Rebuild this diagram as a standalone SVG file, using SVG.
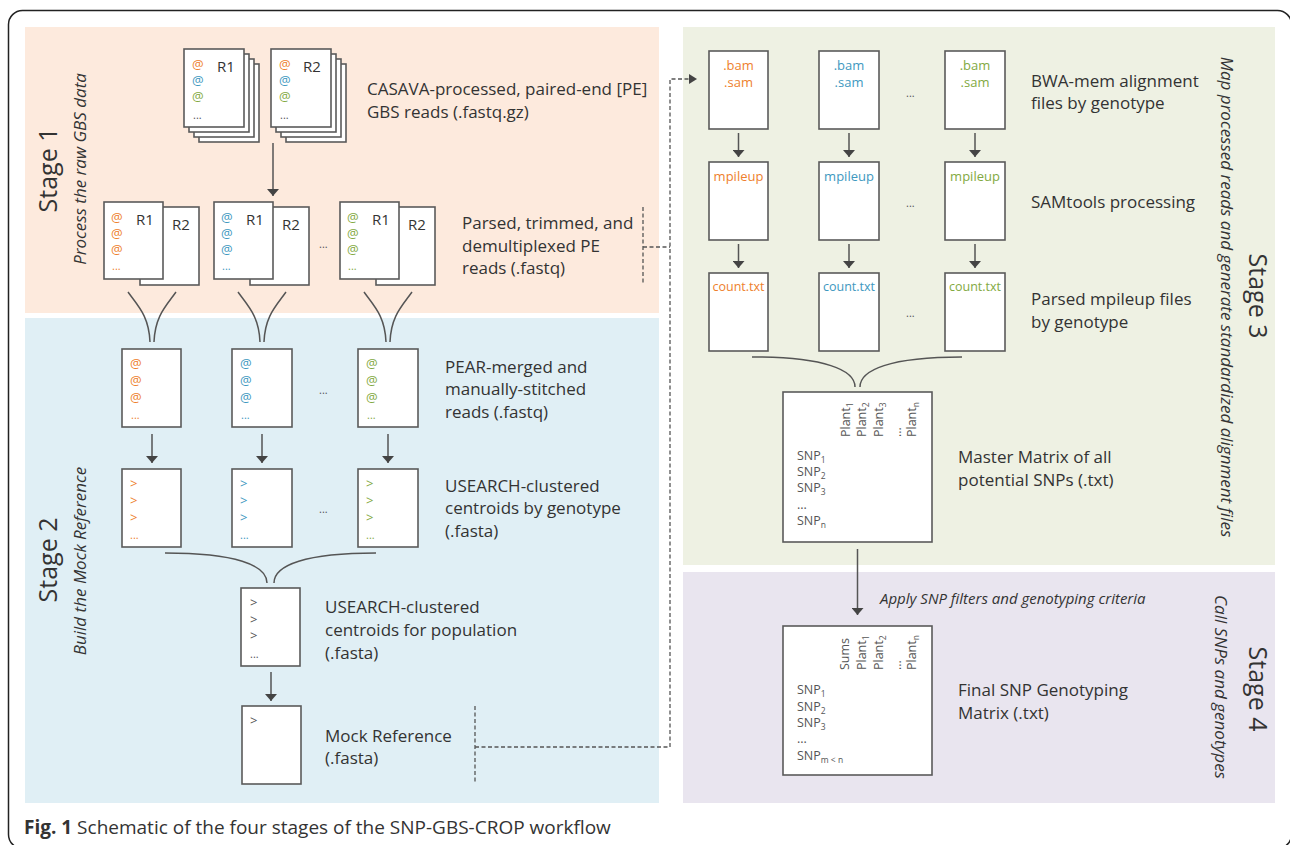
<svg xmlns="http://www.w3.org/2000/svg" width="1290" height="845" viewBox="0 0 1290 845">
<defs>
<style>
text{font-family:"Open Sans","Liberation Sans",sans-serif;fill:#333}
.lbl{font-size:17px}
.stage{font-size:25px}
.sub{font-size:17px;font-style:italic}
.pg{fill:#fff;stroke:#5a5a5a;stroke-width:1.6}
.sm{font-size:13px}
.rl{font-size:15px}
.tiny{font-size:11px;fill:#555}
.mx{font-size:12.5px;fill:#555}
.o{fill:#ee7f2d}.b{fill:#3e98c0}.g{fill:#82a942}.k{fill:#555}
.ar{stroke:#555;stroke-width:1.5;fill:none}
.ds{stroke:#555;stroke-width:1.3;fill:none;stroke-dasharray:4 2.5}
</style>
<marker id="ah" viewBox="0 0 7 12" refX="7" refY="6" markerWidth="7" markerHeight="12" markerUnits="userSpaceOnUse" orient="auto">
<path d="M0,0 L7,6 L0,12 z" fill="#444"/>
</marker>
<marker id="ahd" viewBox="0 0 8 10" refX="8" refY="5" markerWidth="8" markerHeight="10" markerUnits="userSpaceOnUse" orient="auto">
<path d="M0,0 L8,5 L0,10 z" fill="#444"/>
</marker>
</defs>
<rect x="8.5" y="10.5" width="1283" height="838" rx="14" fill="#fff" stroke="#222" stroke-width="1.5"/>
<g id="panels">
<rect x="25" y="27" width="634" height="286" fill="#fdeadd"/>
<rect x="25" y="318" width="634" height="485" fill="#e0eff5"/>
<rect x="683" y="27" width="592" height="538" fill="#eef1e3"/>
<rect x="683" y="572" width="592" height="231" fill="#e9e5ef"/>
<text class="stage" text-anchor="middle" transform="translate(57,170) rotate(-90)">Stage 1</text>
<text class="sub" text-anchor="middle" transform="translate(86,169) rotate(-90)">Process the raw GBS data</text>
<text class="stage" text-anchor="middle" transform="translate(57,560) rotate(-90)">Stage 2</text>
<text class="sub" text-anchor="middle" transform="translate(86,561) rotate(-90)">Build the Mock Reference</text>
<text class="stage" text-anchor="middle" transform="translate(1249,296) rotate(90)">Stage 3</text>
<text class="sub" text-anchor="middle" transform="translate(1221,297) rotate(90)">Map processed reads and generate standardized alignment files</text>
<text class="stage" text-anchor="middle" transform="translate(1249,689) rotate(90)">Stage 4</text>
<text class="sub" text-anchor="middle" transform="translate(1215,687) rotate(90)">Call SNPs and genotypes</text>
</g>
<g id="raw-reads">
<rect class="pg" x="199" y="64" width="60" height="78"/><rect class="pg" x="194" y="59" width="60" height="78"/><rect class="pg" x="189" y="54" width="60" height="78"/><rect class="pg" x="184" y="49" width="60" height="78"/>
<text class="sm o" x="192" y="69">@</text><text class="sm b" x="192" y="85">@</text><text class="sm g" x="192" y="101">@</text><text class="tiny" x="193" y="119">...</text>
<text class="rl" x="217" y="72">R1</text>
<rect class="pg" x="286" y="64" width="60" height="78"/><rect class="pg" x="281" y="59" width="60" height="78"/><rect class="pg" x="276" y="54" width="60" height="78"/><rect class="pg" x="271" y="49" width="60" height="78"/>
<text class="sm o" x="279" y="69">@</text><text class="sm b" x="279" y="85">@</text><text class="sm g" x="279" y="101">@</text><text class="tiny" x="280" y="119">...</text>
<text class="rl" x="303" y="72">R2</text>
<text class="lbl" x="367" y="95">CASAVA-processed, paired-end [PE]</text>
<text class="lbl" x="367" y="118">GBS reads (.fastq.gz)</text>
</g>
<g id="parsed-reads">
<rect class="pg" x="140" y="207" width="59" height="78"/><rect class="pg" x="104" y="202" width="59" height="77"/>
<text class="sm o" x="111" y="222">@</text><text class="sm o" x="111" y="238">@</text><text class="sm o" x="111" y="254">@</text><text class="tiny o" x="112" y="270">...</text>
<text class="rl" x="136" y="225">R1</text><text class="rl" x="172" y="230">R2</text>
<rect class="pg" x="250" y="207" width="59" height="78"/><rect class="pg" x="214" y="202" width="59" height="77"/>
<text class="sm b" x="221" y="222">@</text><text class="sm b" x="221" y="238">@</text><text class="sm b" x="221" y="254">@</text><text class="tiny b" x="222" y="270">...</text>
<text class="rl" x="246" y="225">R1</text><text class="rl" x="282" y="230">R2</text>
<text class="tiny" x="319" y="248">...</text>
<rect class="pg" x="376" y="207" width="59" height="78"/><rect class="pg" x="340" y="202" width="59" height="77"/>
<text class="sm g" x="347" y="222">@</text><text class="sm g" x="347" y="238">@</text><text class="sm g" x="347" y="254">@</text><text class="tiny g" x="348" y="270">...</text>
<text class="rl" x="372" y="225">R1</text><text class="rl" x="408" y="230">R2</text>
<text class="lbl" x="462" y="229">Parsed, trimmed, and</text>
<text class="lbl" x="462" y="252">demultiplexed PE</text>
<text class="lbl" x="462" y="274">reads (.fastq)</text>
</g>
<g id="merged-reads">
<rect class="pg" x="122" y="349" width="59" height="78"/>
<text class="sm o" x="130" y="368">@</text><text class="sm o" x="130" y="385">@</text><text class="sm o" x="130" y="402">@</text><text class="tiny o" x="131" y="419">...</text>
<rect class="pg" x="232" y="349" width="60" height="78"/>
<text class="sm b" x="240" y="368">@</text><text class="sm b" x="240" y="385">@</text><text class="sm b" x="240" y="402">@</text><text class="tiny b" x="241" y="419">...</text>
<text class="tiny" x="319" y="394">...</text>
<rect class="pg" x="358" y="349" width="60" height="78"/>
<text class="sm g" x="366" y="368">@</text><text class="sm g" x="366" y="385">@</text><text class="sm g" x="366" y="402">@</text><text class="tiny g" x="367" y="419">...</text>
<text class="lbl" x="445" y="373">PEAR-merged and</text>
<text class="lbl" x="445" y="395">manually-stitched</text>
<text class="lbl" x="445" y="418">reads (.fastq)</text>
</g>
<g id="genotype-centroids">
<rect class="pg" x="122" y="469" width="59" height="78"/>
<text class="sm o" x="130" y="488">&gt;</text><text class="sm o" x="130" y="505">&gt;</text><text class="sm o" x="130" y="522">&gt;</text><text class="tiny o" x="130" y="539">...</text>
<rect class="pg" x="232" y="469" width="60" height="78"/>
<text class="sm b" x="240" y="488">&gt;</text><text class="sm b" x="240" y="505">&gt;</text><text class="sm b" x="240" y="522">&gt;</text><text class="tiny b" x="240" y="539">...</text>
<text class="tiny" x="319" y="513">...</text>
<rect class="pg" x="358" y="469" width="60" height="78"/>
<text class="sm g" x="366" y="488">&gt;</text><text class="sm g" x="366" y="505">&gt;</text><text class="sm g" x="366" y="522">&gt;</text><text class="tiny g" x="366" y="539">...</text>
<text class="lbl" x="445" y="492">USEARCH-clustered</text>
<text class="lbl" x="445" y="514">centroids by genotype</text>
<text class="lbl" x="445" y="537">(.fasta)</text>
</g>
<g id="population-centroids">
<rect class="pg" x="241" y="588" width="59" height="78"/>
<text class="sm k" x="250" y="607">&gt;</text><text class="sm k" x="250" y="624">&gt;</text><text class="sm k" x="250" y="640">&gt;</text><text class="tiny" x="250" y="658">...</text>
<text class="lbl" x="325" y="613">USEARCH-clustered</text>
<text class="lbl" x="325" y="636">centroids for population</text>
<text class="lbl" x="325" y="659">(.fasta)</text>
</g>
<g id="mock-reference">
<rect class="pg" x="242" y="706" width="59" height="78"/>
<text class="sm k" x="250" y="725">&gt;</text>
<text class="lbl" x="325" y="742">Mock Reference</text>
<text class="lbl" x="325" y="764">(.fasta)</text>
</g>
<g id="alignment-files">
<rect class="pg" x="709" y="51" width="59" height="78"/>
<text class="sm o" text-anchor="middle" x="738.5" y="70">.bam</text><text class="sm o" text-anchor="middle" x="738.5" y="87">.sam</text>
<rect class="pg" x="819" y="51" width="60" height="78"/>
<text class="sm b" text-anchor="middle" x="849" y="70">.bam</text><text class="sm b" text-anchor="middle" x="849" y="87">.sam</text>
<text class="tiny" x="906" y="97">...</text>
<rect class="pg" x="945" y="51" width="60" height="78"/>
<text class="sm g" text-anchor="middle" x="975" y="70">.bam</text><text class="sm g" text-anchor="middle" x="975" y="87">.sam</text>
<text class="lbl" x="1031" y="87">BWA-mem alignment</text>
<text class="lbl" x="1031" y="109">files by genotype</text>
</g>
<g id="samtools">
<rect class="pg" x="709" y="162" width="59" height="78"/>
<text class="sm o" text-anchor="middle" x="738.5" y="181">mpileup</text>
<rect class="pg" x="819" y="162" width="60" height="78"/>
<text class="sm b" text-anchor="middle" x="849" y="181">mpileup</text>
<text class="tiny" x="906" y="207">...</text>
<rect class="pg" x="945" y="162" width="60" height="78"/>
<text class="sm g" text-anchor="middle" x="975" y="181">mpileup</text>
<text class="lbl" x="1031" y="208">SAMtools processing</text>
</g>
<g id="count-files">
<rect class="pg" x="709" y="273" width="59" height="78"/>
<text class="sm o" text-anchor="middle" x="738.5" y="291" style="font-size:12.5px">count.txt</text>
<rect class="pg" x="819" y="273" width="60" height="78"/>
<text class="sm b" text-anchor="middle" x="849" y="291" style="font-size:12.5px">count.txt</text>
<text class="tiny" x="906" y="317">...</text>
<rect class="pg" x="945" y="273" width="60" height="78"/>
<text class="sm g" text-anchor="middle" x="975" y="291" style="font-size:12.5px">count.txt</text>
<text class="lbl" x="1031" y="305">Parsed mpileup files</text>
<text class="lbl" x="1031" y="328">by genotype</text>
</g>
<g id="master-matrix">
<rect class="pg" x="783" y="392" width="149" height="150"/>
<text class="mx" transform="translate(850,437) rotate(-90)">Plant<tspan font-size="8.5" dy="3">1</tspan></text>
<text class="mx" transform="translate(866,437) rotate(-90)">Plant<tspan font-size="8.5" dy="3">2</tspan></text>
<text class="mx" transform="translate(883,437) rotate(-90)">Plant<tspan font-size="8.5" dy="3">3</tspan></text>
<text class="mx" transform="translate(901,437) rotate(-90)">...</text>
<text class="mx" transform="translate(916,437) rotate(-90)">Plant<tspan font-size="8.5" dy="3">n</tspan></text>
<text class="mx" x="797" y="460">SNP<tspan font-size="8.5" dy="3">1</tspan></text>
<text class="mx" x="797" y="476">SNP<tspan font-size="8.5" dy="3">2</tspan></text>
<text class="mx" x="797" y="492">SNP<tspan font-size="8.5" dy="3">3</tspan></text>
<text class="mx" x="797" y="509">...</text>
<text class="mx" x="797" y="525">SNP<tspan font-size="8.5" dy="3">n</tspan></text>
<text class="lbl" x="958" y="463">Master Matrix of all</text>
<text class="lbl" x="958" y="486">potential SNPs (.txt)</text>
</g>
<g id="final-matrix">
<rect class="pg" x="783" y="626" width="149" height="149"/>
<text class="mx" transform="translate(849,670) rotate(-90)">Sums</text>
<text class="mx" transform="translate(866,670) rotate(-90)">Plant<tspan font-size="8.5" dy="3">1</tspan></text>
<text class="mx" transform="translate(883,670) rotate(-90)">Plant<tspan font-size="8.5" dy="3">2</tspan></text>
<text class="mx" transform="translate(901,670) rotate(-90)">...</text>
<text class="mx" transform="translate(916,670) rotate(-90)">Plant<tspan font-size="8.5" dy="3">n</tspan></text>
<text class="mx" x="797" y="694">SNP<tspan font-size="8.5" dy="3">1</tspan></text>
<text class="mx" x="797" y="711">SNP<tspan font-size="8.5" dy="3">2</tspan></text>
<text class="mx" x="797" y="727">SNP<tspan font-size="8.5" dy="3">3</tspan></text>
<text class="mx" x="797" y="743">...</text>
<text class="mx" x="797" y="760">SNP<tspan font-size="8.5" dy="3">m &lt; n</tspan></text>
<text class="lbl" x="958" y="696">Final SNP Genotyping</text>
<text class="lbl" x="958" y="719">Matrix (.txt)</text>
</g>
<g id="connectors">
<line class="ar" x1="273" y1="143" x2="273" y2="196" marker-end="url(#ah)"/>
<path class="ar" d="M128,292 C138,306 149,316 150,342 M176,292 C166,306 155,316 154,342"/>
<path class="ar" d="M238,292 C248,306 259,316 260,342 M286,292 C276,306 265,316 264,342"/>
<path class="ar" d="M364,292 C374,306 385,316 386,342 M412,292 C402,306 391,316 390,342"/>
<line class="ar" x1="152" y1="434" x2="152" y2="463" marker-end="url(#ah)"/>
<line class="ar" x1="262" y1="434" x2="262" y2="463" marker-end="url(#ah)"/>
<line class="ar" x1="388" y1="434" x2="388" y2="463" marker-end="url(#ah)"/>
<path class="ar" d="M165,553 C235,553 267,565 267,583 M376,553 C306,553 274,565 274,583"/>
<line class="ar" x1="271" y1="672" x2="271" y2="701" marker-end="url(#ah)"/>
<path class="ds" d="M643,207 V285 M643,247 H670 M475,706 V784"/>
<path class="ds" d="M475,747 H670 V79 H697" marker-end="url(#ahd)"/>
<line class="ar" x1="738.5" y1="133" x2="738.5" y2="157" marker-end="url(#ah)"/>
<line class="ar" x1="849" y1="133" x2="849" y2="157" marker-end="url(#ah)"/>
<line class="ar" x1="975" y1="133" x2="975" y2="157" marker-end="url(#ah)"/>
<line class="ar" x1="738.5" y1="244" x2="738.5" y2="268" marker-end="url(#ah)"/>
<line class="ar" x1="849" y1="244" x2="849" y2="268" marker-end="url(#ah)"/>
<line class="ar" x1="975" y1="244" x2="975" y2="268" marker-end="url(#ah)"/>
<path class="ar" d="M752,357 C825,357 855,370 855,387 M962,357 C890,357 860,370 860,387"/>
<line class="ar" x1="857.5" y1="549" x2="857.5" y2="615" marker-end="url(#ah)"/>
<text style="font-size:15px;font-style:italic" x="880" y="604">Apply SNP filters and genotyping criteria</text>
</g>
<text style="font-size:19px" x="24" y="834"><tspan font-weight="bold">Fig. 1</tspan> Schematic of the four stages of the SNP-GBS-CROP workflow</text>
</svg>
